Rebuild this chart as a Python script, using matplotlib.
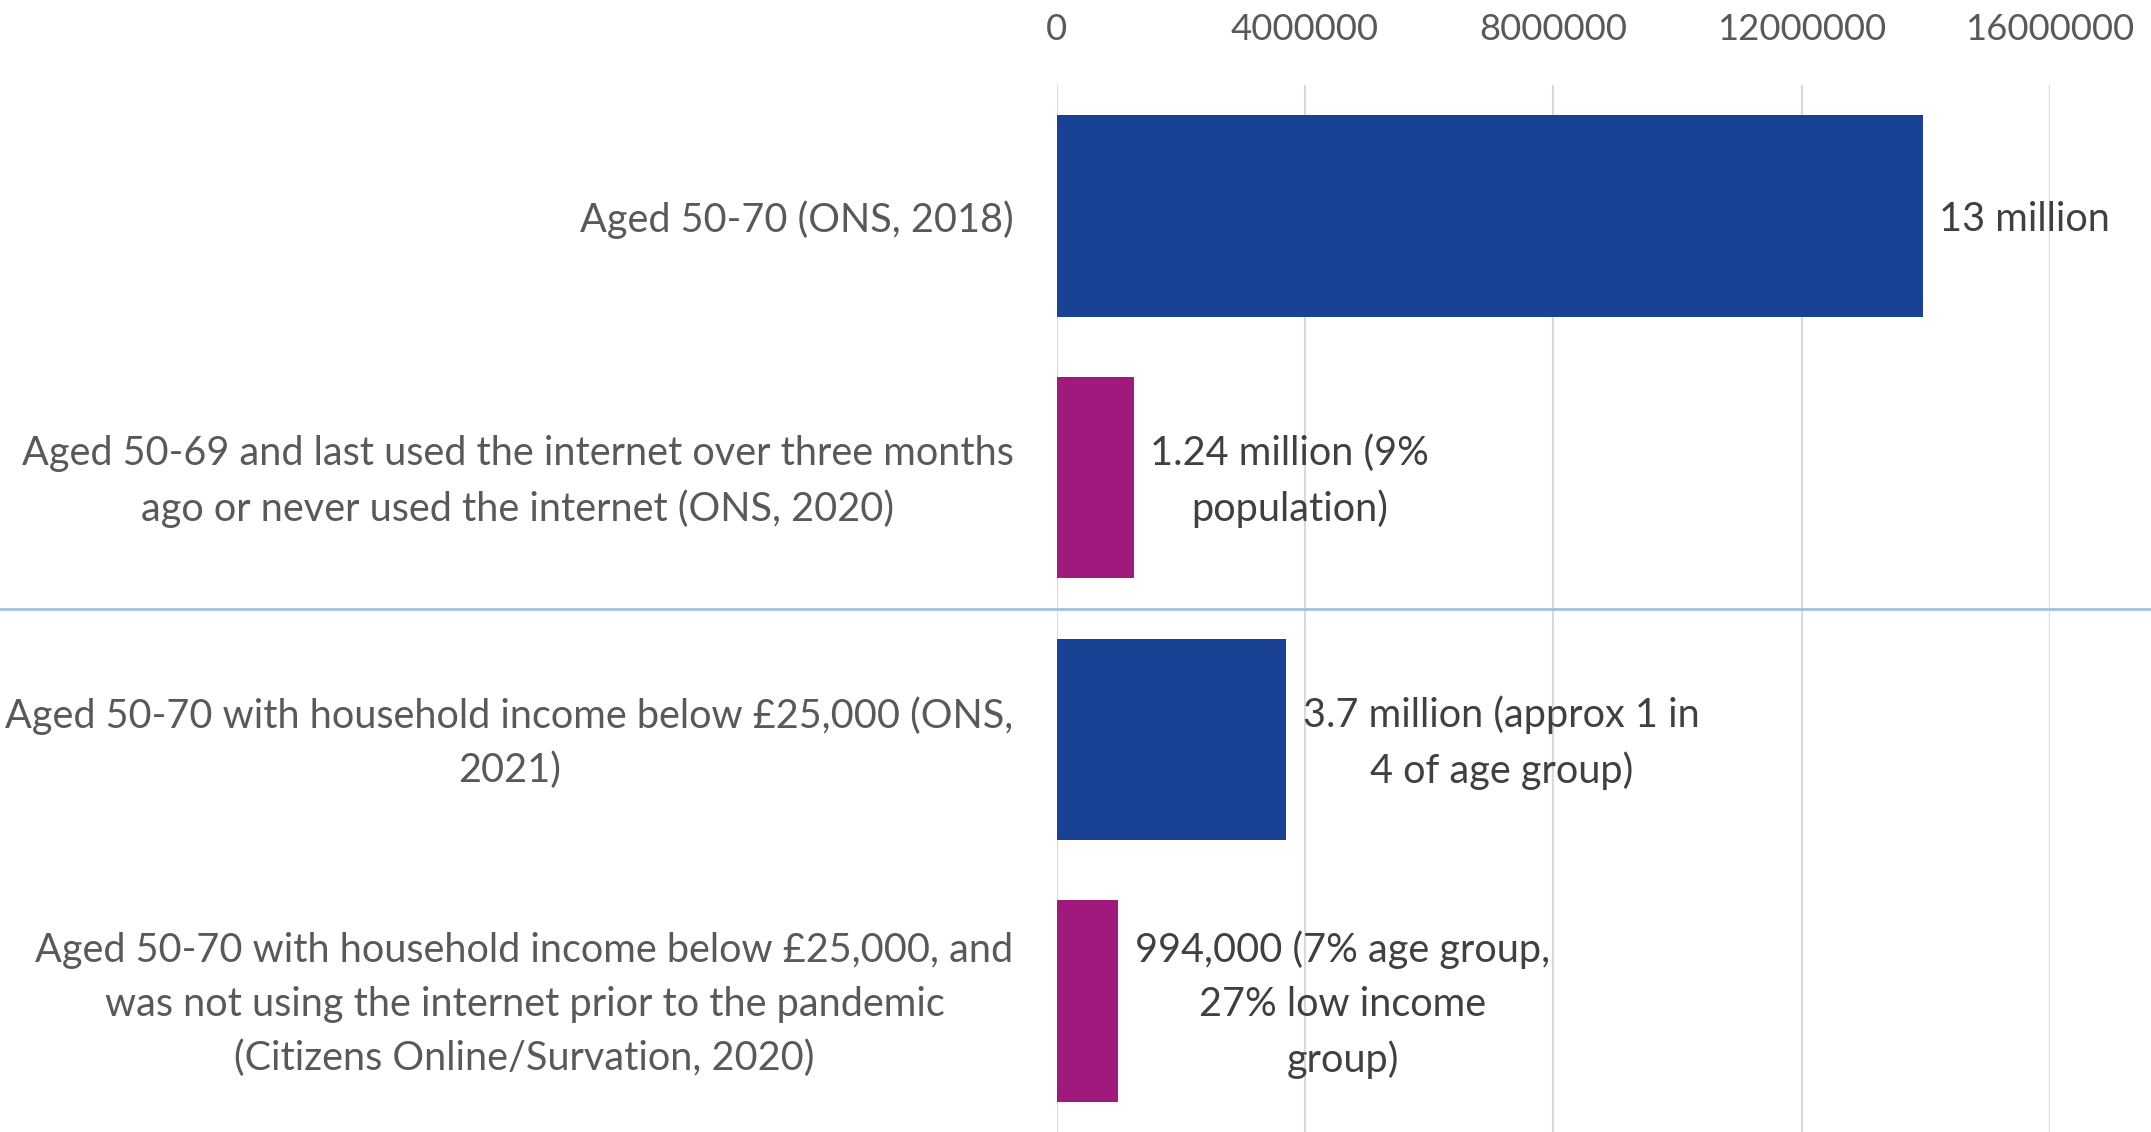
import matplotlib
matplotlib.use('Agg')
import matplotlib.pyplot as plt
from matplotlib.lines import Line2D
from matplotlib.transforms import blended_transform_factory, ScaledTranslation

# categories (top to bottom) and values
categories = [
    'Aged 50-70 (ONS, 2018)',
    'Aged 50-69 and last used the internet over three months\nago or never used the internet (ONS, 2020)',
    'Aged 50-70 with household income below £25,000 (ONS,\n2021)',
    'Aged 50-70 with household income below £25,000, and\nwas not using the internet prior to the pandemic\n(Citizens Online/Survation, 2020)',
]
values = [13950000, 1240000, 3700000, 994000]
value_labels = [
    '13 million',
    '1.24 million (9%\npopulation)',
    '3.7 million (approx 1 in\n4 of age group)',
    '994,000 (7% age group,\n27% low income\ngroup)',
]
bar_colors = ['#1A4294', '#A0197D', '#1A4294', '#A0197D']
xticks = [0, 4000000, 8000000, 12000000, 16000000]

plt.rcParams['font.family'] = ['Lato', 'DejaVu Sans']

fig = plt.figure(figsize=(21.51, 11.32), dpi=100)
ax = fig.add_axes([0.4912, 0.0, 0.4619, 0.9249])

ypos = list(range(len(categories)))
ax.barh(ypos, values, height=0.77, color=bar_colors, zorder=3)
ax.set_ylim(3.5, -0.5)
ax.set_xlim(0, 16000000)

# axis on top, no tick marks
ax.xaxis.tick_top()
ax.set_xticks(xticks)
ax.set_xticklabels([str(t) for t in xticks])
ax.tick_params(axis='x', length=0, pad=28, labelsize=26.3, labelcolor='#595959')
ax.set_yticks(ypos)
ax.set_yticklabels(categories)
ax.tick_params(axis='y', length=0, pad=31, labelsize=28.5, labelcolor='#595959')
nudge = ScaledTranslation(0, -2.5 / 72, fig.dpi_scale_trans)
for lab in ax.get_yticklabels():
    lab.set_multialignment('center')
    lab.set_verticalalignment('center')
    lab.set_linespacing(1.55)
    lab.set_transform(lab.get_transform() + nudge)

ax.grid(axis='x', color='#D9D9D9', lw=1.5, zorder=0)
ax.grid(axis='y', visible=False)
for s in ax.spines.values():
    s.set_visible(False)

# value labels next to bars
for y, v, t in zip(ypos, values, value_labels):
    ax.annotate(t, xy=(v, y), xytext=(12, -2.5), textcoords='offset points',
                ha='left', va='center', multialignment='center',
                fontsize=28.5, color='#404040', linespacing=1.55)

# separator across the whole width between the two groups
tr = blended_transform_factory(fig.transFigure, ax.transData)
fig.add_artist(Line2D([0, 1], [1.5, 1.5], transform=tr, color='#9DC3E6', lw=2))

fig.savefig('out.png', dpi=100, facecolor='white')
